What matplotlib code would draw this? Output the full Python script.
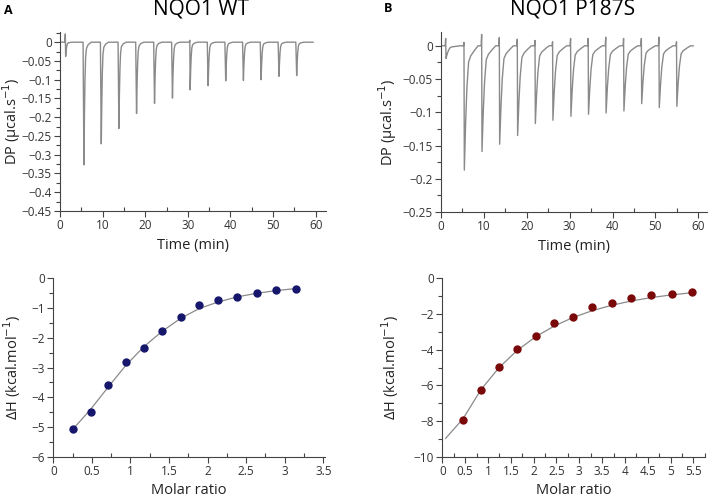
import matplotlib
matplotlib.use("Agg")
import matplotlib.pyplot as plt
from matplotlib.ticker import MultipleLocator, FuncFormatter

plt.rcParams['font.family'] = ['Open Sans', 'DejaVu Sans']
plt.rcParams['mathtext.fontset'] = 'dejavusans'

# ---- thermogram peaks ----
wt_inj_t = [1.33, 5.62, 9.69, 13.83, 17.97, 22.19, 26.4, 30.55, 34.77, 38.9, 43.05, 47.2, 51.4, 55.55]
wt_depth = [0.038, 0.327, 0.271, 0.230, 0.190, 0.163, 0.149, 0.127, 0.116, 0.103, 0.102, 0.100, 0.091, 0.089]
wt_spike = [0.022, 0, 0, 0, 0, 0, 0, 0.005, 0, 0, 0, 0, 0, 0]
wt_span = [0.3, 59.4]
wt_prof_dt = [-0.12, 0.0, 0.12, 0.25, 0.4, 0.6, 1.0, 1.7]
wt_prof_fr = [0.0, 1.0, 0.6, 0.3, 0.12, 0.05, 0.02, 0.0]

mut_inj_t = [1.17, 5.44, 9.56, 13.68, 17.87, 22.0, 26.1, 30.3, 34.4, 38.5, 42.66, 46.8, 50.9, 55.0]
mut_depth = [0.019, 0.187, 0.159, 0.148, 0.135, 0.117, 0.112, 0.106, 0.103, 0.101, 0.098, 0.087, 0.093, 0.091]
mut_spike = [0.011, 0.005, 0.017, 0.0125, 0.010, 0.008, 0.006, 0.011, 0.011, 0.013, 0.011, 0.011, 0.013, 0.006]
mut_span = [0.4, 58.8]
mut_prof_dt = [-0.15, 0.0, 0.3, 0.6, 1.0, 1.5, 2.4, 3.2]
mut_prof_fr = [0.0, 1.0, 0.62, 0.34, 0.13, 0.08, 0.035, 0.0]

# ---- integrated heats ----
wt_ratio = [0.26, 0.484, 0.713, 0.942, 1.175, 1.413, 1.651, 1.893, 2.139, 2.385, 2.636, 2.891, 3.146]
wt_dh = [-5.07, -4.49, -3.57, -2.81, -2.34, -1.79, -1.29, -0.90, -0.75, -0.64, -0.50, -0.39, -0.36]
wt_fit_x = [0.26, 0.484, 0.713, 0.942, 1.175, 1.413, 1.651, 1.893, 2.139, 2.385, 2.636, 2.891, 3.146]
wt_fit_y = [-5.05, -4.40, -3.65, -2.92, -2.30, -1.78, -1.35, -1.02, -0.80, -0.63, -0.51, -0.42, -0.35]

mut_ratio = [0.458, 0.844, 1.237, 1.637, 2.044, 2.452, 2.866, 3.289, 3.71, 4.14, 4.576, 5.02, 5.464]
mut_dh = [-7.93, -6.26, -4.97, -3.99, -3.26, -2.50, -2.18, -1.60, -1.40, -1.12, -0.95, -0.875, -0.80]
mut_fit_x = [0.073, 0.458, 0.844, 1.237, 1.637, 2.044, 2.452, 2.866, 3.289, 3.71, 4.14, 4.576, 5.02, 5.464]
mut_fit_y = [-8.96, -7.85, -6.25, -5.02, -4.05, -3.28, -2.68, -2.20, -1.82, -1.52, -1.28, -1.09, -0.94, -0.82]


def trace(inj_t, depth, spike, span, pdt, pfr):
    tt, yy = [span[0]], [0.0]
    for t, d, s in zip(inj_t, depth, spike):
        tt += [t - 0.2]
        yy += [0.0]
        if s:
            tt += [t - 0.08]
            yy += [s]
        for dt, fr in zip(pdt[1:], pfr[1:]):
            tt.append(t + dt)
            yy.append(-d * fr)
    tt.append(span[1])
    yy.append(0.0)
    return tt, yy


fmt = FuncFormatter(lambda v, p: ('%g' % round(v, 4)).replace('-', '\u2212'))
GREY = '#8a8a8a'
AX = '#444444'


def style(ax, xmaj, xmin, ymaj, ymin):
    for s in ['top', 'right']:
        ax.spines[s].set_visible(False)
    for s in ['left', 'bottom']:
        ax.spines[s].set_color(AX)
        ax.spines[s].set_linewidth(0.8)
    ax.xaxis.set_major_locator(MultipleLocator(xmaj))
    ax.xaxis.set_minor_locator(MultipleLocator(xmin))
    ax.yaxis.set_major_locator(MultipleLocator(ymaj))
    ax.yaxis.set_minor_locator(MultipleLocator(ymin))
    ax.xaxis.set_major_formatter(fmt)
    ax.yaxis.set_major_formatter(fmt)
    ax.tick_params(which='major', length=4, width=0.8, color=AX, labelsize=8.5,
                   labelcolor='#333333', pad=2)
    ax.tick_params(which='minor', length=3, width=0.8, color=AX)
    ax.tick_params(axis='x', which='minor', direction='in')


fig = plt.figure(figsize=(7.09, 4.97), dpi=100)

ax1 = fig.add_axes([0.0846, 0.5755, 0.375, 0.360])
t, y = trace(wt_inj_t, wt_depth, wt_spike, wt_span, wt_prof_dt, wt_prof_fr)
ax1.plot(t, y, color=GREY, lw=1.0)
ax1.set_xlim(0, 62.4)
ax1.set_ylim(-0.45, 0.027)
style(ax1, 10, 5, 0.05, 0.025)

ax2 = fig.add_axes([0.622, 0.5734, 0.375, 0.362])
t, y = trace(mut_inj_t, mut_depth, mut_spike, mut_span, mut_prof_dt, mut_prof_fr)
ax2.plot(t, y, color=GREY, lw=1.0)
ax2.set_xlim(0, 62.0)
ax2.set_ylim(-0.25, 0.0206)
style(ax2, 10, 5, 0.05, 0.025)

ax3 = fig.add_axes([0.0752, 0.0805, 0.383, 0.360])
ax3.plot(wt_fit_x, wt_fit_y, color=GREY, lw=0.9, zorder=1)
ax3.plot(wt_ratio, wt_dh, 'o', color='#16166b', ms=5, zorder=2)
ax3.set_xlim(0, 3.52)
ax3.set_ylim(-6, 0)
style(ax3, 0.5, 0.25, 1, 0.5)

ax4 = fig.add_axes([0.6238, 0.0805, 0.371, 0.360])
ax4.plot(mut_fit_x, mut_fit_y, color=GREY, lw=0.9, zorder=1)
ax4.plot(mut_ratio, mut_dh, 'o', color='#7a0808', ms=5, zorder=2)
ax4.set_xlim(0, 5.76)
ax4.set_ylim(-10, 0)
style(ax4, 0.5, 0.25, 2, 1)

for ax in (ax1, ax2):
    ax.set_xlabel('Time (min)', fontsize=10.5, color='#222222', va='top')
    ax.set_ylabel('DP (\u00b5cal.s$^{\u22121}$)', fontsize=10.5, color='#222222', va='center')
for ax in (ax3, ax4):
    ax.set_xlabel('Molar ratio', fontsize=10.5, color='#222222', va='top')
    ax.set_ylabel('\u0394H (kcal.mol$^{\u22121}$)', fontsize=10.5, color='#222222', va='center')

ax1.xaxis.set_label_coords(0.5, -0.151)
ax2.xaxis.set_label_coords(0.5, -0.151)
ax3.xaxis.set_label_coords(0.5, -0.145)
ax4.xaxis.set_label_coords(0.5, -0.145)
ax1.yaxis.set_label_coords(-0.182, 0.5)
ax2.yaxis.set_label_coords(-0.20, 0.5)
ax3.yaxis.set_label_coords(-0.152, 0.5)
ax4.yaxis.set_label_coords(-0.198, 0.5)

fig.text(201 / 709, 1 - 9 / 497, 'NQO1 WT', fontsize=15, ha='center', va='center')
fig.text(573 / 709, 1 - 9 / 497, 'NQO1 P187S', fontsize=15, ha='center', va='center')
fig.text(8 / 709, 1 - 10 / 497, 'A', fontsize=9, fontweight='bold', ha='center', va='center')
fig.text(388 / 709, 1 - 8 / 497, 'B', fontsize=9, fontweight='bold', ha='center', va='center')

fig.savefig('out.png', dpi=100)
